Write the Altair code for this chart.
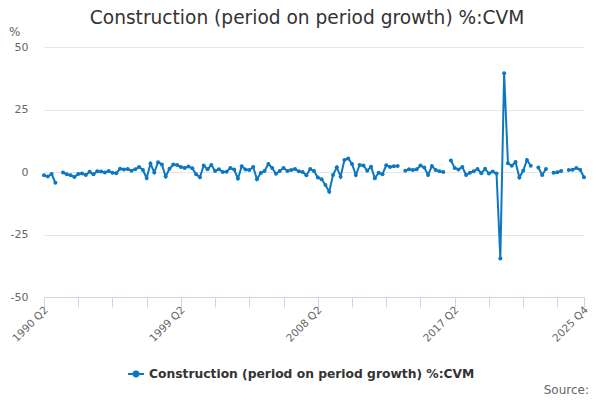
import altair as alt
import pandas as pd

SERIES = "Construction (period on period growth) %:CVM"
BLUE = "#0d77c0"

# Quarterly growth, 1990 Q2 .. 2025 Q4 (None = missing, line breaks)
V_1990_1994 = [-1.3, -1.8, -0.8, -4.3, None, -0.2, -0.9, -1.3, -2.0, -0.8,
               -0.6, -1.2, 0.1, -0.9, 0.3, 0.2, -0.2, 0.4, -0.3]
V_1995_1999 = [-0.5, 1.3, 1.0, 1.2, 0.5, 1.1, 2.0, 0.8, -2.4, 3.4,
               -0.2, 3.9, 3.0, -1.8, 1.3, 3.0, 2.8, 2.0, 1.6, 2.2]
V_2000_2004 = [1.5, -0.9, -2.1, 2.6, 1.1, 2.8, 0.4, 1.1, 0.0, 0.1,
               1.6, 1.0, -2.6, 2.3, 1.0, 0.8, 2.0, -2.9, -0.4, 0.4]
V_2005_2009 = [3.2, 1.6, -0.7, 0.4, 1.6, 0.4, 0.8, 1.2, 0.3, 0.0,
               -1.3, 1.2, 0.4, -2.2, -2.9, -5.2, -7.9, -1.2, 1.9, -1.9]
V_2010_2014 = [4.8, 5.4, 3.2, -1.2, 2.8, 2.6, 0.5, 2.1, -2.5, -0.3,
               -0.9, 2.7, 2.0, 2.3, 2.4, None, 0.5, 1.1, 0.8, 1.1]
V_2015_2019 = [2.6, 1.8, -1.2, 2.4, 0.8, 0.3, 0.0, None, 4.6, 1.6,
               1.0, 2.0, -1.2, -0.3, 0.3, 1.2, -0.5, 1.3, -0.6, 0.2]
V_2020_2025 = [-0.6, -34.6, 39.5, 3.5, 2.5, 4.0, -2.2, 0.5, 4.8, 2.5,
               None, 1.8, -1.2, 1.2, None, -0.3, -0.1, 0.4, None, 0.8,
               0.9, 1.6, 0.9, -2.1]

VALUES = V_1990_1994 + V_1995_1999 + V_2000_2004 + V_2005_2009 + V_2010_2014 + V_2015_2019 + V_2020_2025

TICK_IDX = [0, 9, 18, 27, 36, 45, 54, 63, 72, 81, 90, 99, 108, 117, 126, 135, 142]
LABEL_IDX = [0, 36, 72, 108, 142]
LABEL_TXT = ["1990 Q2", "1999 Q2", "2008 Q2", "2017 Q2", "2025 Q4"]
Y_TICKS = [-50, -25, 0, 25, 50]

rows = []
seg = 0
for i, v in enumerate(VALUES):
    if v is None:
        seg += 1
    q = (1 + i) % 4 + 1
    yr = 1990 + (1 + i) // 4
    rows.append({"idx": i, "quarter": f"{yr} Q{q}", "value": v, "seg": seg, "series": SERIES})
df = pd.DataFrame(rows)

label_expr = " : ".join(f"datum.value == {k} ? '{t}'" for k, t in zip(LABEL_IDX, LABEL_TXT)) + " : ''"

FONT = "DejaVu Sans"

x = alt.X("idx:Q",
          scale=alt.Scale(domain=[0, len(VALUES) - 1], nice=False, zero=False),
          axis=alt.Axis(values=TICK_IDX, labelExpr=label_expr, title=None, grid=False,
                        domainColor="#ccd6eb", tickColor="#ccd6eb", tickSize=10,
                        labelAngle=-45, labelAlign="right", labelBaseline="middle",
                        labelPadding=1, labelOffset=2, labelColor="#666666", labelFontSize=10.5,
                        labelFont=FONT, labelOverlap=False, labelFlush=False))
y = alt.Y("value:Q",
          scale=alt.Scale(domain=[-50, 50], nice=False),
          axis=alt.Axis(values=Y_TICKS, title=None, domain=False, ticks=False,
                        labelExpr="'' + datum.value",
                        gridColor="#e6e6e6", labelPadding=16, labelColor="#666666",
                        labelFontSize=11, labelFont=FONT))
color = alt.Color("series:N", scale=alt.Scale(range=[BLUE]),
                  legend=alt.Legend(title=None, orient="none", legendX=83, legendY=318,
                                    symbolType="M-1,0L1,0M-0.3,0a0.3,0.3 0 1,0 0.6,0a0.3,0.3 0 1,0 -0.6,0",
                                    symbolSize=256, symbolStrokeWidth=2,
                                    symbolStrokeColor=BLUE, symbolFillColor=BLUE,
                                    labelFont=FONT, labelFontSize=12.3, labelFontWeight="bold",
                                    labelColor="#333333", labelLimit=600))

base = alt.Chart(df)
line = base.mark_line(strokeWidth=2).encode(x=x, y=y, color=color, detail="seg:N")
pts = base.mark_point(filled=True, size=16, opacity=1).encode(x=x, y=y, color=color)

pct = alt.Chart(pd.DataFrame({"t": ["%"]})).mark_text(
    align="left", baseline="middle", fontSize=12, font=FONT, color="#666666"
).encode(x=alt.value(-35), y=alt.value(-15), text="t:N")
src = alt.Chart(pd.DataFrame({"t": ["Source:"]})).mark_text(
    align="right", baseline="middle", fontSize=12, font=FONT, color="#666666"
).encode(x=alt.value(545), y=alt.value(343), text="t:N")

chart = alt.layer(line, pts, pct, src).properties(
    width=540, height=250,
    autosize=alt.AutoSizeParams(type="none"),
    padding={"left": 36, "top": 39, "right": 8, "bottom": 100},
    title=alt.Title(SERIES, fontSize=18.6, font=FONT, fontWeight="normal", color="#333333",
                    anchor="middle", dx=-7, dy=18, offset=16),
).configure_view(stroke=None)

chart.save("out.html", embed_options={"renderer": "svg", "actions": False})
